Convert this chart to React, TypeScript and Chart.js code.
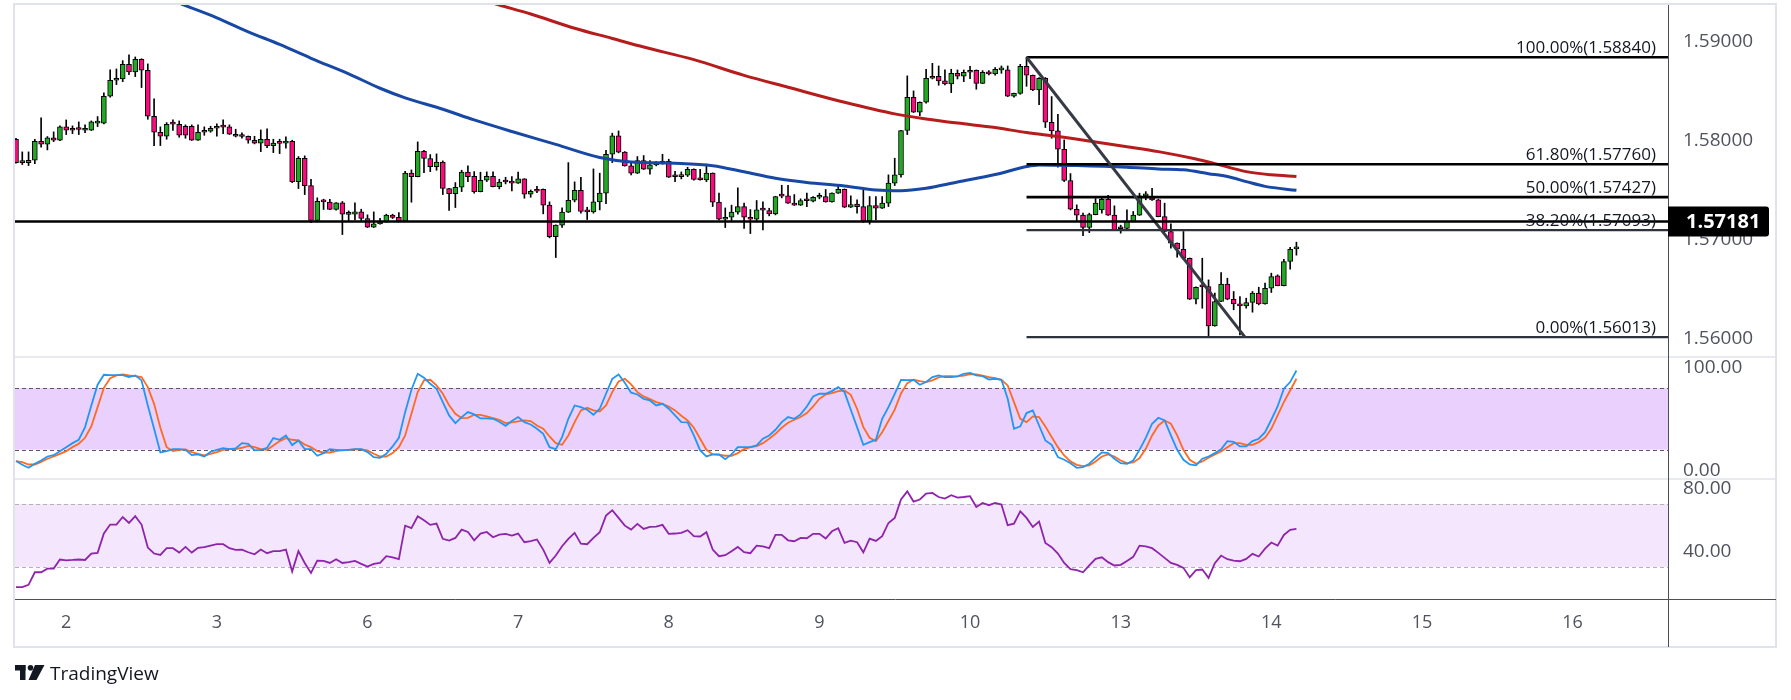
import React, { useEffect, useRef } from 'react';
import { Chart, registerables } from 'chart.js';

Chart.register(...registerables);

const FONT = '"Open Sans", "Noto Sans", sans-serif';

// x-axis day labels (candle index of 00:00 of each day, 1H candles)
const dayLabels = ['2', '3', '6', '7', '8', '9', '10', '13', '14', '15', '16'];
const dayIdx = [8, 32, 56, 80, 104, 128, 152, 176, 200, 224, 248];

const priceTicks = [1.56, 1.57, 1.58, 1.59];
const stochTicks = [0, 100];
const rsiTicks = [40, 80];

const opens = [
  1.58012,1.57778,1.57776,1.57800,1.57992,1.57961,1.58025,1.58002,1.58137,1.58120,
  1.58113,1.58103,1.58103,1.58174,1.58174,1.58446,1.58608,1.58621,1.58769,1.58692,
  1.58820,1.58709,1.58244,1.58083,1.58042,1.58167,1.58163,1.58143,1.58143,1.58002,
  1.58083,1.58093,1.58123,1.58137,1.58137,1.58062,1.58042,1.58042,1.58002,1.57972,
  1.58012,1.57948,1.57972,1.57972,1.57992,1.57584,1.57820,1.57544,1.57191,1.57383,
  1.57376,1.57302,1.57369,1.57255,1.57255,1.57278,1.57211,1.57123,1.57157,1.57177,
  1.57245,1.57224,1.57184,1.57669,1.57635,1.57891,1.57817,1.57736,1.57780,1.57514,
  1.57463,1.57527,1.57679,1.57638,1.57483,1.57598,1.57638,1.57534,1.57581,1.57588,
  1.57568,1.57611,1.57457,1.57507,1.57507,1.57346,1.57029,1.57144,1.57275,1.57396,
  1.57497,1.57288,1.57278,1.57379,1.57467,1.57860,1.58046,1.57881,1.57743,1.57669,
  1.57797,1.57709,1.57753,1.57763,1.57790,1.57635,1.57635,1.57648,1.57709,1.57605,
  1.57601,1.57669,1.57376,1.57204,1.57224,1.57275,1.57332,1.57224,1.57204,1.57298,
  1.57292,1.57258,1.57440,1.57440,1.57366,1.57346,1.57393,1.57386,1.57426,1.57433,
  1.57379,1.57467,1.57507,1.57325,1.57356,1.57332,1.57187,1.57342,1.57315,1.57366,
  1.57568,1.57652,1.58100,1.58436,1.58285,1.58386,1.58628,1.58648,1.58601,1.58571,
  1.58678,1.58648,1.58689,1.58709,1.58577,1.58692,1.58672,1.58712,1.58712,1.58446,
  1.58476,1.58749,1.58658,1.58510,1.58628,1.58184,1.58096,1.57911,1.57595,1.57305,
  1.57245,1.57120,1.57251,1.57298,1.57406,1.57245,1.57110,1.57110,1.57181,1.57245,
  1.57440,1.57406,1.57400,1.57231,1.57080,1.56962,1.56901,1.56810,1.56396,1.56524,
  1.56524,1.56127,1.56373,1.56548,1.56396,1.56349,1.56329,1.56363,1.56457,1.56349,
  1.56507,1.56632,1.56534,1.56777,1.56905,
];
const highs = [
  1.58022,1.57884,1.57884,1.58012,1.58227,1.58039,1.58086,1.58147,1.58207,1.58147,
  1.58187,1.58157,1.58197,1.58241,1.58480,1.58712,1.58722,1.58806,1.58864,1.58843,
  1.58825,1.58773,1.58419,1.58137,1.58180,1.58207,1.58197,1.58157,1.58157,1.58157,
  1.58137,1.58143,1.58167,1.58207,1.58157,1.58113,1.58076,1.58045,1.58042,1.58106,
  1.58116,1.58012,1.58012,1.58036,1.58002,1.57837,1.57844,1.57608,1.57420,1.57406,
  1.57406,1.57371,1.57383,1.57288,1.57369,1.57305,1.57248,1.57278,1.57214,1.57255,
  1.57255,1.57271,1.57689,1.57702,1.57985,1.57901,1.57857,1.57864,1.57793,1.57516,
  1.57574,1.57699,1.57743,1.57685,1.57679,1.57682,1.57682,1.57608,1.57628,1.57635,
  1.57679,1.57614,1.57500,1.57537,1.57510,1.57379,1.57147,1.57318,1.57776,1.57581,
  1.57628,1.57325,1.57712,1.57669,1.57901,1.58073,1.58096,1.57887,1.57780,1.57837,
  1.57847,1.57797,1.57787,1.57860,1.57810,1.57689,1.57682,1.57729,1.57712,1.57709,
  1.57760,1.57672,1.57467,1.57318,1.57346,1.57521,1.57366,1.57302,1.57393,1.57379,
  1.57315,1.57436,1.57547,1.57547,1.57453,1.57410,1.57467,1.57433,1.57467,1.57504,
  1.57470,1.57551,1.57510,1.57440,1.57400,1.57507,1.57433,1.57433,1.57433,1.57652,
  1.57820,1.58103,1.58652,1.58500,1.58389,1.58719,1.58779,1.58752,1.58712,1.58719,
  1.58712,1.58712,1.58749,1.58712,1.58705,1.58705,1.58736,1.58752,1.58752,1.58479,
  1.58769,1.58840,1.58661,1.58635,1.58635,1.58443,1.58264,1.58005,1.57665,1.57349,
  1.57265,1.57265,1.57413,1.57433,1.57446,1.57339,1.57144,1.57298,1.57282,1.57467,
  1.57483,1.57517,1.57406,1.57366,1.57157,1.56965,1.57080,1.56813,1.56520,1.56810,
  1.56591,1.56457,1.56666,1.56608,1.56474,1.56423,1.56406,1.56474,1.56517,1.56558,
  1.56659,1.56642,1.56800,1.56921,1.56972,
];
const lows = [
  1.57770,1.57756,1.57746,1.57766,1.57931,1.57904,1.57988,1.57998,1.58059,1.58069,
  1.58059,1.58079,1.58100,1.58140,1.58167,1.58436,1.58564,1.58594,1.58665,1.58645,
  1.58534,1.58214,1.57948,1.57948,1.58012,1.58100,1.58032,1.58022,1.58000,1.58000,
  1.58052,1.58083,1.58042,1.58069,1.58060,1.58035,1.58022,1.57972,1.57965,1.57887,
  1.57928,1.57877,1.57867,1.57921,1.57574,1.57514,1.57453,1.57170,1.57177,1.57302,
  1.57300,1.57295,1.57049,1.57184,1.57197,1.57184,1.57120,1.57120,1.57154,1.57175,
  1.57211,1.57177,1.57182,1.57376,1.57632,1.57675,1.57685,1.57699,1.57453,1.57292,
  1.57322,1.57483,1.57584,1.57467,1.57480,1.57584,1.57530,1.57510,1.57561,1.57490,
  1.57565,1.57416,1.57426,1.57473,1.57258,1.57016,1.56817,1.57120,1.57272,1.57379,
  1.57265,1.57201,1.57265,1.57298,1.57362,1.57776,1.57874,1.57740,1.57652,1.57666,
  1.57706,1.57659,1.57743,1.57760,1.57625,1.57584,1.57611,1.57635,1.57598,1.57598,
  1.57584,1.57332,1.57197,1.57120,1.57187,1.57255,1.57110,1.57059,1.57177,1.57096,
  1.57238,1.57248,1.57420,1.57363,1.57343,1.57343,1.57332,1.57379,1.57410,1.57376,
  1.57376,1.57464,1.57322,1.57322,1.57265,1.57170,1.57154,1.57197,1.57312,1.57332,
  1.57544,1.57628,1.58059,1.58282,1.58251,1.58376,1.58621,1.58557,1.58561,1.58483,
  1.58621,1.58594,1.58625,1.58517,1.58574,1.58662,1.58658,1.58678,1.58443,1.58436,
  1.58466,1.58547,1.58503,1.58362,1.58130,1.58022,1.57729,1.57584,1.57298,1.57191,
  1.57039,1.57069,1.57248,1.57265,1.57242,1.57093,1.57063,1.57107,1.57177,1.57242,
  1.57400,1.57393,1.57228,1.57077,1.56911,1.56820,1.56800,1.56393,1.56349,1.56305,
  1.56013,1.56124,1.56370,1.56390,1.56289,1.56036,1.56305,1.56265,1.56339,1.56346,
  1.56464,1.56531,1.56531,1.56699,1.56841,
];
const closes = [
  1.57776,1.57776,1.57800,1.57992,1.57961,1.58025,1.58002,1.58137,1.58103,1.58103,
  1.58110,1.58120,1.58187,1.58187,1.58446,1.58608,1.58621,1.58769,1.58692,1.58820,
  1.58709,1.58244,1.58083,1.58042,1.58163,1.58165,1.58052,1.58052,1.58002,1.58083,
  1.58096,1.58123,1.58143,1.58135,1.58062,1.58042,1.58040,1.58002,1.57972,1.58012,
  1.57948,1.57972,1.57970,1.57992,1.57584,1.57820,1.57544,1.57191,1.57386,1.57380,
  1.57302,1.57369,1.57255,1.57253,1.57278,1.57211,1.57123,1.57157,1.57167,1.57245,
  1.57221,1.57184,1.57669,1.57635,1.57891,1.57817,1.57736,1.57780,1.57514,1.57463,
  1.57527,1.57679,1.57635,1.57483,1.57598,1.57638,1.57534,1.57578,1.57580,1.57568,
  1.57611,1.57457,1.57487,1.57487,1.57346,1.57029,1.57144,1.57275,1.57396,1.57497,
  1.57282,1.57278,1.57379,1.57467,1.57860,1.58046,1.57881,1.57743,1.57669,1.57797,
  1.57709,1.57753,1.57770,1.57790,1.57628,1.57633,1.57648,1.57709,1.57605,1.57603,
  1.57669,1.57376,1.57204,1.57224,1.57275,1.57332,1.57224,1.57204,1.57298,1.57296,
  1.57258,1.57433,1.57438,1.57366,1.57346,1.57393,1.57391,1.57426,1.57436,1.57379,
  1.57467,1.57507,1.57325,1.57352,1.57332,1.57187,1.57342,1.57315,1.57366,1.57568,
  1.57652,1.58100,1.58436,1.58285,1.58386,1.58628,1.58648,1.58601,1.58571,1.58678,
  1.58648,1.58689,1.58709,1.58577,1.58689,1.58672,1.58719,1.58714,1.58446,1.58476,
  1.58749,1.58658,1.58510,1.58628,1.58184,1.58096,1.57911,1.57595,1.57305,1.57245,
  1.57120,1.57251,1.57366,1.57406,1.57245,1.57096,1.57108,1.57181,1.57245,1.57440,
  1.57442,1.57400,1.57231,1.57080,1.56962,1.56901,1.56810,1.56396,1.56517,1.56520,
  1.56127,1.56373,1.56548,1.56396,1.56349,1.56329,1.56363,1.56457,1.56349,1.56507,
  1.56625,1.56534,1.56777,1.56901,1.56908,
];

// moving averages (candle index, value)
const maBlueIdx = [18,27,32,37,42,47,53,58,62,68,73,79,86,93,98,105,111,116,121,126,132,137,141,145,150,156,161,163,169,177,182,186,190,193,196,199,204];
const maBlueVal = [1.59584,1.59362,1.59239,1.59097,1.58970,1.58830,1.58673,1.58527,1.58430,1.58315,1.58207,1.58090,1.57960,1.57828,1.57783,1.57770,1.57745,1.57683,1.57618,1.57576,1.57540,1.57500,1.57492,1.57517,1.57580,1.57655,1.57736,1.57753,1.57746,1.57729,1.57712,1.57703,1.57664,1.57635,1.57584,1.57536,1.57496];
const maRedIdx = [70,77,82,89,95,100,108,116,123,132,140,145,150,156,161,166,172,177,182,188,191,196,200,204];
const maRedVal = [1.59500,1.59368,1.59277,1.59133,1.59030,1.58943,1.58816,1.58657,1.58537,1.58385,1.58268,1.58217,1.58175,1.58130,1.58079,1.58040,1.57985,1.57937,1.57887,1.57812,1.57766,1.57685,1.57653,1.57636];

// Fibonacci retracement
const fibPct = [100, 61.8, 50, 38.2, 0];
const fibPrice = [1.58840, 1.57760, 1.57427, 1.57093, 1.56013];
const fibStartIdx = 161;
const trendIdx = [161, 195.8];
const trendVal = [1.58840, 1.56013];
const levelPrice = 1.57181;

// Stochastic %K, %D
const stochK = [
  8.9,5.3,2.4,6.3,9.5,13.4,14.7,18.6,22.5,26.4,
  29.7,42.0,63.1,83.3,93.0,92.7,92.7,92.7,90.7,92.4,
  87.5,63.1,40.4,17.3,18.6,20.6,20.6,19.9,14.7,15.4,
  13.4,18.0,19.9,21.6,20.6,21.2,26.4,25.8,19.3,19.9,
  21.9,31.3,29.7,33.9,24.5,29.0,20.6,20.6,14.1,16.7,
  20.6,19.9,19.3,19.9,20.6,20.6,17.7,12.8,12.1,16.0,
  23.2,31.6,56.6,78.4,94.0,90.1,84.2,79.4,66.4,53.4,
  45.9,51.8,56.6,54.4,50.5,50.5,50.1,47.2,43.3,47.9,
  51.8,46.9,44.6,40.4,35.5,22.5,20.6,32.3,50.1,63.1,
  61.5,58.9,54.0,59.9,74.5,89.1,93.3,85.2,75.5,73.8,
  69.6,68.0,63.1,64.7,59.9,53.4,46.9,46.6,33.9,19.3,
  13.4,15.4,15.4,10.8,15.4,22.5,22.5,22.5,24.2,30.7,
  33.9,39.4,46.9,51.8,50.1,54.4,62.1,71.9,74.5,74.5,
  77.1,81.0,76.1,58.9,42.0,24.8,27.4,29.7,50.1,61.5,
  74.5,88.1,87.8,88.1,83.3,85.9,90.7,92.4,90.7,90.7,
  91.4,94.0,94.9,92.4,91.7,88.4,89.1,88.1,69.6,40.4,
  42.7,55.7,58.3,43.6,29.0,24.8,12.8,10.2,6.9,2.4,
  3.1,6.3,12.1,17.3,16.7,11.2,6.9,6.3,9.5,19.9,
  31.6,45.3,51.1,48.5,33.9,19.9,10.2,5.6,4.7,11.2,
  13.4,16.7,20.3,28.4,27.7,23.2,23.2,28.4,30.7,37.1,
  49.2,62.1,79.4,85.9,97.2,
];
const stochD = [
  8.9,7.9,5.6,5.6,8.2,11.2,13.4,16.0,18.6,22.5,
  25.8,31.6,42.7,61.5,80.3,89.7,92.4,93.3,92.4,91.7,
  90.7,81.0,64.7,41.4,22.5,18.6,19.9,20.3,17.7,16.0,
  14.4,16.0,17.7,19.9,20.6,20.6,21.9,23.8,22.5,20.6,
  19.9,24.2,28.4,31.3,29.7,29.0,25.1,22.5,18.6,17.3,
  17.3,18.6,19.6,19.9,20.3,20.3,19.3,16.0,13.4,13.4,
  16.7,22.5,33.9,55.0,76.1,87.5,88.1,82.6,74.5,63.4,
  55.0,50.8,51.1,54.0,54.0,52.4,50.8,49.2,45.9,46.6,
  47.5,48.5,47.9,43.6,40.4,32.9,26.4,24.8,33.9,46.9,
  58.3,60.8,58.3,57.3,63.1,76.1,86.5,89.1,83.6,76.1,
  71.9,69.3,66.4,64.7,62.1,58.3,53.1,48.5,41.4,30.7,
  19.9,15.4,15.1,14.1,14.1,16.7,20.6,22.5,23.5,26.4,
  30.7,35.5,41.4,46.2,49.2,51.8,55.7,62.1,69.6,73.8,
  75.1,77.1,77.7,73.5,59.9,42.0,31.6,28.4,37.1,47.9,
  59.0,74.8,84.9,88.1,86.8,85.9,87.5,90.4,91.7,91.7,
  91.4,92.1,93.6,93.3,92.1,90.7,89.7,88.1,82.6,66.4,
  50.1,46.9,52.4,51.8,42.7,32.3,22.5,14.4,8.6,5.3,
  4.0,4.7,8.6,13.4,15.4,13.4,9.5,6.9,7.6,11.8,
  20.9,33.9,43.6,48.5,45.3,33.9,19.9,10.2,6.3,8.6,
  12.1,15.4,18.3,22.5,26.4,26.4,24.8,24.8,27.4,31.6,
  40.4,53.4,66.4,77.7,89.1,
];
// RSI
const rsi = [
  17.1,17.1,18.6,26.6,26.6,28.9,28.9,34.7,34.2,34.4,
  34.7,34.4,38.5,38.9,51.2,56.9,56.9,61.7,57.9,62.2,
  56.9,42.3,38.5,37.6,41.9,41.9,39.1,42.7,39.1,42.1,
  42.5,43.5,44.4,44.4,41.9,40.8,41.0,39.3,38.0,41.0,
  38.7,40.0,40.0,41.0,27.0,40.0,32.5,26.2,34.0,33.8,
  32.5,34.9,32.5,33.0,33.8,31.9,30.2,31.9,32.5,36.8,
  36.1,34.9,56.2,54.6,62.2,59.6,56.7,57.5,47.8,46.7,
  48.4,53.7,52.2,46.9,51.2,52.2,48.8,50.5,51.0,49.9,
  51.2,45.7,46.3,47.4,41.0,32.5,37.2,43.1,47.8,51.6,
  44.8,44.4,48.4,52.0,62.6,66.0,61.1,56.2,53.7,57.3,
  54.1,55.4,55.6,56.7,51.0,51.2,51.6,53.3,49.5,49.3,
  52.0,41.0,36.8,37.4,40.0,42.7,39.3,38.7,43.5,43.1,
  41.9,50.3,50.3,46.9,46.3,48.4,48.2,51.0,51.0,48.0,
  52.6,54.6,45.2,46.7,45.7,39.3,48.0,46.5,49.5,57.9,
  61.1,72.8,78.0,71.5,72.8,76.6,77.0,74.4,73.4,75.5,
  74.0,74.4,74.9,68.1,70.6,69.2,70.6,69.6,56.5,57.5,
  65.3,61.1,55.4,58.8,45.2,42.5,38.5,32.5,28.5,27.9,
  26.6,30.9,35.1,36.1,33.0,30.9,31.3,33.8,36.4,43.5,
  43.1,41.9,38.9,35.7,32.5,31.3,29.4,23.4,27.9,28.3,
  23.0,32.3,37.2,34.9,34.0,33.6,35.1,38.3,36.6,41.6,
  45.5,43.5,50.3,53.5,54.1,
];
const stochBand = [20, 80];
const rsiBand = [30, 70];

const GREEN = '#22a822';
const PINK = '#fb0a7e';

const overlay = {
  id: 'overlay',
  beforeDraw(chart: any) {
    const ctx = chart.ctx;
    ctx.save();
    ctx.fillStyle = '#ffffff';
    ctx.fillRect(0, 0, chart.width, chart.height);
    ctx.restore();
  },
  beforeDatasetsDraw(chart: any) {
    const { ctx, chartArea: a, scales } = chart;
    const yS = scales.yS, yR = scales.yR;
    ctx.save();
    const s1 = yS.getPixelForValue(stochBand[1]), s0 = yS.getPixelForValue(stochBand[0]);
    ctx.fillStyle = '#e9d0fd';
    ctx.fillRect(a.left, s1, a.right - a.left, s0 - s1);
    const r1 = yR.getPixelForValue(rsiBand[1]), r0 = yR.getPixelForValue(rsiBand[0]);
    ctx.fillStyle = '#f3e6fd';
    ctx.fillRect(a.left, r1, a.right - a.left, r0 - r1);
    ctx.lineWidth = 1;
    ctx.setLineDash([4, 3]);
    ctx.strokeStyle = '#5f5669';
    [s1, s0].forEach((y: number) => {
      ctx.beginPath(); ctx.moveTo(a.left, Math.round(y) + 0.5); ctx.lineTo(a.right, Math.round(y) + 0.5); ctx.stroke();
    });
    ctx.strokeStyle = '#b4b1b8';
    [r1, r0].forEach((y: number) => {
      ctx.beginPath(); ctx.moveTo(a.left, Math.round(y) + 0.5); ctx.lineTo(a.right, Math.round(y) + 0.5); ctx.stroke();
    });
    ctx.restore();
  },
  afterDraw(chart: any) {
    const { ctx, chartArea: a, scales } = chart;
    const y = scales.y, yS = scales.yS, yR = scales.yR;
    const outerRight = y.right;
    const bottomAxis = scales.x.bottom;
    ctx.save();
    ctx.strokeStyle = '#e0e3eb';
    ctx.lineWidth = 1.5;
    [yS.top, yR.top].forEach((py: number) => {
      ctx.beginPath(); ctx.moveTo(a.left, py); ctx.lineTo(outerRight, py); ctx.stroke();
    });
    ctx.lineWidth = 2;
    ctx.strokeRect(a.left - 1, a.top - 1, outerRight - a.left + 1, bottomAxis - a.top + 1);
    ctx.strokeStyle = '#4c4f59';
    ctx.lineWidth = 1;
    ctx.beginPath(); ctx.moveTo(a.left, a.bottom + 0.5); ctx.lineTo(outerRight, a.bottom + 0.5); ctx.stroke();
    ctx.beginPath(); ctx.moveTo(a.right + 0.5, a.top); ctx.lineTo(a.right + 0.5, bottomAxis); ctx.stroke();

    // fib labels
    ctx.fillStyle = '#131722';
    ctx.font = `17px ${FONT}`;
    ctx.textAlign = 'right';
    ctx.textBaseline = 'alphabetic';
    fibPct.forEach((p, i) => {
      const py = y.getPixelForValue(fibPrice[i]);
      ctx.fillText(`${p.toFixed(2)}%(${fibPrice[i].toFixed(5)})`, a.right - 12, py - 4);
    });

    // current level box
    const ly = y.getPixelForValue(levelPrice);
    ctx.fillStyle = '#000000';
    const bx = a.right, bw = 101, bh = 30, r = 3;
    ctx.beginPath();
    ctx.moveTo(bx, ly - bh / 2);
    ctx.lineTo(bx + bw - r, ly - bh / 2);
    ctx.quadraticCurveTo(bx + bw, ly - bh / 2, bx + bw, ly - bh / 2 + r);
    ctx.lineTo(bx + bw, ly + bh / 2 - r);
    ctx.quadraticCurveTo(bx + bw, ly + bh / 2, bx + bw - r, ly + bh / 2);
    ctx.lineTo(bx, ly + bh / 2);
    ctx.closePath();
    ctx.fill();
    ctx.fillStyle = '#ffffff';
    ctx.font = `bold 20px ${FONT}`;
    ctx.textAlign = 'left';
    ctx.textBaseline = 'middle';
    ctx.fillText(levelPrice.toFixed(5), bx + 18, ly + 1);

    // TradingView logo
    const lx = a.left, lt = bottomAxis + 18;
    ctx.fillStyle = '#131722';
    ctx.fillRect(lx, lt, 10.5, 5.5);
    ctx.fillRect(lx + 5, lt, 5.5, 15);
    ctx.beginPath(); ctx.arc(lx + 15.5, lt + 2.8, 2.8, 0, Math.PI * 2); ctx.fill();
    ctx.beginPath();
    ctx.moveTo(lx + 20, lt); ctx.lineTo(lx + 29.5, lt); ctx.lineTo(lx + 21.5, lt + 15); ctx.lineTo(lx + 13.5, lt + 15);
    ctx.closePath(); ctx.fill();
    ctx.font = `19px ${FONT}`;
    ctx.textAlign = 'left';
    ctx.textBaseline = 'alphabetic';
    ctx.fillText('TradingView', lx + 35, lt + 15);
    ctx.restore();
  },
};

export default function App() {
  const ref = useRef<HTMLCanvasElement>(null);
  useEffect(() => {
    document.body.style.margin = '0';
    const canvas = ref.current;
    if (!canvas) return;
    const idx = opens.map((_, i) => i);
    const line = (xs: number[], ys: number[]) => xs.map((x, i) => ({ x, y: ys[i] }));
    const series = (vals: number[]) => vals.map((v, i) => ({ x: i, y: v }));
    const lastX = 263.2;

    const fibDatasets = fibPct.map((p, i) => ({
      type: 'line' as const,
      data: [{ x: fibStartIdx, y: fibPrice[i] }, { x: lastX, y: fibPrice[i] }],
      yAxisID: 'y',
      borderColor: i >= 3 ? '#2e323c' : '#000000',
      borderWidth: i >= 3 ? 2.2 : 2.6,
      pointRadius: 0,
      order: 5,
    }));

    const yCommon = (ticksArr: number[], digits: number) => ({
      type: 'linear' as const,
      position: 'right' as const,
      stack: 'panes',
      grid: { display: false, drawTicks: false },
      border: { display: false },
      ticks: {
        padding: 15,
        color: '#50535e',
        font: { family: FONT, size: 19 },
        callback: (v: any) => Number(v).toFixed(digits),
      },
      afterBuildTicks: (s: any) => { s.ticks = ticksArr.map((v) => ({ value: v })); },
      afterFit: (s: any) => { s.width = 108; s.paddingTop = 0; s.paddingBottom = 0; },
    });

    const chart = new Chart(canvas, {
      type: 'bar',
      data: {
        datasets: [
          {
            type: 'bar',
            data: idx.map((i) => ({ x: i, y: [lows[i], highs[i]] })) as any,
            yAxisID: 'y',
            backgroundColor: '#000000',
            barThickness: 1,
            grouped: false,
            order: 10,
          },
          {
            type: 'bar',
            data: idx.map((i) => ({ x: i, y: [opens[i], closes[i]] })) as any,
            yAxisID: 'y',
            backgroundColor: idx.map((i) => (closes[i] >= opens[i] ? GREEN : PINK)),
            borderColor: '#000000',
            borderWidth: 1,
            borderSkipped: false,
            barThickness: 5,
            minBarLength: 2,
            grouped: false,
            order: 9,
          },
          {
            type: 'line',
            data: line(maRedIdx, maRedVal) as any,
            yAxisID: 'y',
            borderColor: '#b71c1c',
            borderWidth: 3,
            pointRadius: 0,
            cubicInterpolationMode: 'monotone',
            order: 8,
          },
          {
            type: 'line',
            data: line(maBlueIdx, maBlueVal) as any,
            yAxisID: 'y',
            borderColor: '#1848a6',
            borderWidth: 3,
            pointRadius: 0,
            cubicInterpolationMode: 'monotone',
            order: 8,
          },
          ...(fibDatasets as any[]),
          {
            type: 'line',
            data: line(trendIdx, trendVal) as any,
            yAxisID: 'y',
            borderColor: '#363a45',
            borderWidth: 3,
            pointRadius: 0,
            order: 4,
          },
          {
            type: 'line',
            data: [{ x: -0.16, y: levelPrice }, { x: lastX, y: levelPrice }] as any,
            yAxisID: 'y',
            borderColor: '#000000',
            borderWidth: 2.7,
            pointRadius: 0,
            order: 3,
          },
          {
            type: 'line',
            data: series(stochD) as any,
            yAxisID: 'yS',
            borderColor: '#ff6a21',
            borderWidth: 1.8,
            pointRadius: 0,
            order: 2,
          },
          {
            type: 'line',
            data: series(stochK) as any,
            yAxisID: 'yS',
            borderColor: '#2196f3',
            borderWidth: 1.8,
            pointRadius: 0,
            order: 1,
          },
          {
            type: 'line',
            data: series(rsi) as any,
            yAxisID: 'yR',
            borderColor: '#8e24aa',
            borderWidth: 1.8,
            pointRadius: 0,
            order: 1,
          },
        ] as any,
      },
      options: {
        responsive: false,
        animation: false,
        events: [],
        layout: { padding: { left: 15, top: 5, right: 15, bottom: 53 } },
        plugins: { legend: { display: false }, tooltip: { enabled: false } },
        scales: {
          x: {
            type: 'linear',
            min: -0.16,
            max: lastX,
            offset: false,
            grid: { display: false, drawTicks: false },
            border: { display: false },
            ticks: {
              autoSkip: false,
              maxRotation: 0,
              padding: 13,
              color: '#50535e',
              font: { family: FONT, size: 18 },
              callback: (v: any) => {
                const k = dayIdx.indexOf(Number(v));
                return k >= 0 ? dayLabels[k] : '';
              },
            },
            afterBuildTicks: (s: any) => { s.ticks = dayIdx.map((v) => ({ value: v })); },
            afterFit: (s: any) => { s.height = 48; s.paddingLeft = 0; s.paddingRight = 0; },
          },
          y: { ...yCommon(priceTicks, 5), stackWeight: 352.3, min: 1.55811, max: 1.59368 },
          yS: { ...yCommon(stochTicks, 2), stackWeight: 122, min: -8.6, max: 110.2 },
          yR: { ...yCommon(rsiTicks, 2), stackWeight: 120, min: 9.6, max: 85.8 },
        } as any,
      },
      plugins: [overlay],
    } as any);
    return () => chart.destroy();
  }, []);
  return (
    <div style={{ width: 1791, height: 700 }}>
      <canvas ref={ref} width={1791} height={700} style={{ display: 'block', width: 1791, height: 700 }} />
    </div>
  );
}
